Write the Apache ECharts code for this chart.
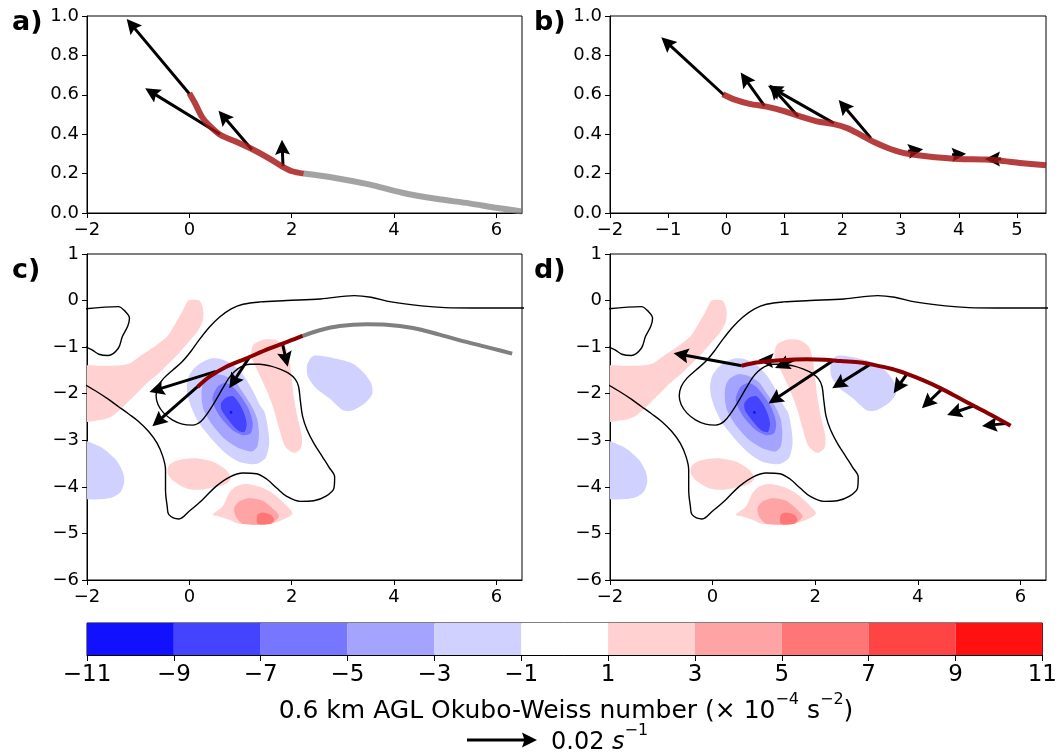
<!DOCTYPE html>
<html>
<head>
<meta charset="utf-8">
<script src="https://cdn.jsdelivr.net/npm/echarts@6/dist/echarts.min.js"></script>
<style>
  html, body { margin: 0; padding: 0; background: #fff; }
  #chart { width: 1060px; height: 754px; }
</style>
</head>
<body>
<div id="chart"></div>
<script>
// ---------- tick values ----------
const xTicksWide = [-2, 0, 2, 4, 6];
const xTicksB = [-2, -1, 0, 1, 2, 3, 4, 5];
const yTicksProfile = [0, 0.2, 0.4, 0.6, 0.8, 1.0];
const yTicksMap = [-6, -5, -4, -3, -2, -1, 0, 1];

// ---------- Okubo-Weiss levels (x 10^-4 s^-2) and band colours ----------
const owLevels = [-11, -9, -7, -5, -3, -1, 1, 3, 5, 7, 9, 11];
const owColors = ['#1111ff', '#4444ff', '#7676ff', '#a4a4ff', '#d1d1ff', '#ffffff',
                  '#ffd1d1', '#ffa4a4', '#ff7676', '#ff4444', '#ff1111'];

// ---------- panel a: height profile along the first track ----------
const redPathA = [[0, 0.608], [0.111, 0.557], [0.242, 0.49], [0.373, 0.448], [0.601, 0.397],
  [0.895, 0.364], [1.222, 0.325], [1.549, 0.279], [1.81, 0.237], [2.007, 0.212], [2.235, 0.2]];
const grayPathA = [[2.235, 0.2], [2.85, 0.178], [3.51, 0.145], [4.16, 0.103], [4.82, 0.072],
  [5.47, 0.049], [5.99, 0.027], [6.5, 0.008]];
// [x, y, u, v] with u, v in s^-1
const arrowsA = [[0.0, 0.605, -0.0179, 0.0214], [0.60, 0.40, -0.0214, 0.0131],
  [1.22, 0.322, -0.0095, 0.0111], [1.83, 0.237, -0.0003, 0.0076]];

// ---------- panel b: height profile along the second track ----------
const redPathB = [[-0.06, 0.603], [0.16, 0.574], [0.4, 0.554], [0.69, 0.54], [0.98, 0.519],
  [1.27, 0.49], [1.56, 0.465], [1.85, 0.451], [2.08, 0.431], [2.31, 0.397], [2.55, 0.359],
  [2.78, 0.33], [3.01, 0.308], [3.3, 0.293], [3.59, 0.283], [4.0, 0.274], [4.47, 0.271],
  [4.76, 0.264], [5.05, 0.254], [5.5, 0.242]];
const arrowsB = [[-0.04, 0.599, -0.0179, 0.0165], [0.657, 0.544, -0.0068, 0.0095],
  [1.238, 0.49, -0.0082, 0.0091], [1.849, 0.456, -0.0188, 0.0107], [2.488, 0.38, -0.0092, 0.0109],
  [3.128, 0.313, 0.0043, 0.0006], [3.884, 0.296, 0.0040, 0.0003], [4.727, 0.274, -0.0046, 0.0]];

// ---------- panels c, d: filled Okubo-Weiss bands (polygons in km) ----------
const owPinkNorthwest = [[-2.1, -1.43], [-1.717, -1.402], [-1.388, -1.395], [-1.157, -1.345],
  [-0.927, -1.166], [-0.664, -0.973], [-0.433, -0.773], [-0.269, -0.487], [-0.137, -0.237],
  [-0.018, 0.0], [0.192, 0.0], [0.271, -0.201], [0.258, -0.451], [0.159, -0.665], [-0.005, -0.88],
  [-0.203, -1.13], [-0.4, -1.345], [-0.598, -1.559], [-0.795, -1.738], [-0.993, -1.952],
  [-1.157, -2.131], [-1.322, -2.31], [-1.519, -2.488], [-1.717, -2.56], [-2.1, -2.574]];
const owBlueCore1 = [[-0.05, -1.85], [0.0, -1.6], [0.15, -1.4], [0.4, -1.25], [0.6, -1.25],
  [0.85, -1.38], [1.05, -1.6], [1.25, -1.95], [1.38, -2.25], [1.47, -2.4], [1.53, -2.7],
  [1.56, -3.06], [1.49, -3.38], [1.3, -3.51], [0.97, -3.46], [0.71, -3.28], [0.45, -2.99],
  [0.19, -2.63], [0.06, -2.35], [-0.02, -2.1]];
const owBlueCore2 = [[0.25, -1.85], [0.33, -1.68], [0.5, -1.58], [0.7, -1.62], [0.9, -1.75],
  [1.05, -1.98], [1.18, -2.2], [1.27, -2.38], [1.33, -2.56], [1.36, -2.85], [1.33, -3.13],
  [1.23, -3.24], [0.97, -3.17], [0.71, -2.99], [0.45, -2.67], [0.28, -2.35], [0.24, -2.1]];
const owBlueCore3 = [[0.45, -2.1], [0.55, -1.85], [0.7, -1.77], [0.85, -1.85], [1.0, -2.05],
  [1.12, -2.25], [1.2, -2.45], [1.24, -2.65], [1.2, -2.85], [1.04, -2.89], [0.84, -2.78],
  [0.62, -2.52], [0.5, -2.3]];
const owBlueCore4 = [[0.62, -2.2], [0.72, -2.08], [0.85, -2.05], [0.97, -2.2], [1.07, -2.42],
  [1.12, -2.65], [1.08, -2.82], [0.97, -2.8], [0.85, -2.68], [0.72, -2.5], [0.63, -2.35]];
const owBlueCore5 = [[0.79, -2.38], [0.83, -2.37], [0.84, -2.42], [0.80, -2.43]];
const owPinkStrip = [[1.25, -0.95], [1.45, -0.84], [1.7, -0.85], [1.87, -0.98], [1.95, -1.25],
  [1.99, -1.56], [2.04, -2.06], [2.11, -2.49], [2.2, -2.92], [2.18, -3.17], [2.04, -3.27],
  [1.87, -3.13], [1.76, -2.77], [1.64, -2.3], [1.5, -1.9], [1.33, -1.5], [1.21, -1.2]];
const owBlueEast = [[2.417, -1.189], [2.807, -1.232], [3.197, -1.354], [3.425, -1.569],
  [3.556, -1.783], [3.576, -1.998], [3.459, -2.176], [3.197, -2.354], [3.002, -2.354],
  [2.742, -2.105], [2.483, -1.89], [2.319, -1.64], [2.299, -1.388]];
const owBlueSouthwest = [[-2.1, -3.0], [-1.986, -3.028], [-1.694, -3.17], [-1.434, -3.42],
  [-1.303, -3.671], [-1.272, -3.886], [-1.336, -4.1], [-1.498, -4.221], [-1.76, -4.264],
  [-2.1, -4.221]];
const owPinkSouth = [[-0.394, -3.528], [-0.199, -3.421], [0.127, -3.384], [0.453, -3.457],
  [0.713, -3.635], [0.81, -3.813], [0.713, -3.936], [0.484, -4.006], [0.192, -4.064],
  [-0.068, -4.028], [-0.296, -3.886], [-0.425, -3.706]];
const owRedSouth1 = [[0.453, -4.601], [0.648, -4.423], [0.777, -4.135], [0.908, -3.993],
  [1.103, -3.936], [1.363, -3.993], [1.624, -4.135], [1.851, -4.35], [2.014, -4.579],
  [1.624, -4.785], [0.972, -4.794], [0.777, -4.708], [0.582, -4.637]];
const owRedSouth2 = [[0.875, -4.457], [0.972, -4.315], [1.168, -4.243], [1.429, -4.294],
  [1.655, -4.494], [1.753, -4.637], [1.591, -4.79], [1.039, -4.79], [0.908, -4.637]];
const owRedSouth3 = [[1.331, -4.601], [1.429, -4.552], [1.591, -4.601], [1.656, -4.708],
  [1.591, -4.79], [1.331, -4.79]];
// [polygon, lower bound of its band]
const owBands = [
  [owPinkNorthwest, 1], [owBlueCore1, -3], [owBlueCore2, -5], [owBlueCore3, -7],
  [owBlueCore4, -9], [owBlueCore5, -11], [owPinkStrip, 1], [owBlueEast, -3],
  [owBlueSouthwest, -3], [owPinkSouth, 1], [owRedSouth1, 1], [owRedSouth2, 3], [owRedSouth3, 5]
];

// ---------- panels c, d: black outline contours ----------
const outlineWest = [[-2.05, -0.18], [-1.388, -0.129], [-1.269, -0.215], [-1.17, -0.38],
  [-1.203, -0.544], [-1.309, -0.773], [-1.388, -1.023], [-1.585, -1.18], [-1.77, -1.152],
  [-1.901, -1.059], [-2.05, -0.98]];
const outlineMain = [[-2.05, -1.80], [-1.783, -1.974], [-1.585, -2.117], [-1.388, -2.274],
  [-1.19, -2.431], [-0.993, -2.595], [-0.795, -2.81], [-0.631, -3.06], [-0.519, -3.346],
  [-0.466, -3.632], [-0.466, -4.061], [-0.433, -4.418], [-0.4, -4.597], [-0.203, -4.69],
  [-0.005, -4.525], [0.258, -4.275], [0.521, -3.989], [0.785, -3.789], [1.048, -3.703],
  [1.311, -3.718], [1.509, -3.832], [1.706, -4.025], [1.904, -4.204], [2.167, -4.311],
  [2.431, -4.297], [2.661, -4.204], [2.826, -4.025], [2.839, -3.789], [2.727, -3.575],
  [2.595, -3.346], [2.431, -3.06], [2.299, -2.774], [2.213, -2.488], [2.167, -2.131],
  [2.134, -1.845], [2.068, -1.688], [1.937, -1.559], [1.772, -1.473], [1.575, -1.402],
  [1.377, -1.366], [1.18, -1.366], [1.015, -1.416], [0.883, -1.523], [0.772, -1.666],
  [0.653, -1.881], [0.521, -2.131], [0.357, -2.417], [0.225, -2.595], [0.061, -2.674],
  [-0.137, -2.653], [-0.334, -2.56], [-0.499, -2.417], [-0.611, -2.238], [-0.65, -2.045],
  [-0.611, -1.845], [-0.499, -1.666], [-0.334, -1.502], [-0.137, -1.309], [0.028, -1.094],
  [0.192, -0.844], [0.39, -0.573], [0.587, -0.358], [0.818, -0.179], [1.048, -0.079],
  [1.377, -0.029], [1.904, 0.0], [2.562, 0.035], [3.221, 0.107], [3.55, 0.071],
  [3.945, -0.029], [4.537, -0.115], [4.998, -0.151], [5.525, -0.158], [6.55, -0.158]];

// ---------- panel c: first track and its vectors ----------
const redPathC = [[0.16, -1.854], [0.387, -1.64], [0.713, -1.425], [1.103, -1.247],
  [1.558, -1.032], [1.948, -0.873], [2.21, -0.76]];
const grayPathC = [[2.19, -0.77], [2.547, -0.637], [2.938, -0.545], [3.459, -0.509],
  [3.849, -0.517], [4.37, -0.588], [4.889, -0.731], [5.41, -0.888], [5.93, -1.032], [6.308, -1.139]];
const arrowsC = [[0.52, -1.52, -0.0190, -0.0059], [0.16, -1.85, -0.0129, -0.0113],
  [1.17, -1.22, -0.0057, -0.0088], [1.82, -0.93, 0.0015, -0.0065]];

// ---------- panel d: second track and its vectors ----------
const redPathD = [[0.57, -1.40], [0.85, -1.33], [1.19, -1.29], [1.5, -1.27], [1.84, -1.26],
  [2.2, -1.27], [2.49, -1.30], [2.88, -1.33], [3.14, -1.38], [3.5, -1.47], [3.79, -1.575],
  [4.1, -1.71], [4.44, -1.88], [4.77, -2.07], [5.09, -2.26], [5.45, -2.47], [5.81, -2.69]];
const arrowsD = [[0.57, -1.40, -0.0195, 0.0036], [1.19, -1.29, -0.0044, 0.0002],
  [1.6, -1.27, -0.0056, -0.0024], [2.36, -1.28, -0.0186, -0.0124], [3.07, -1.37, -0.0108, -0.0068],
  [3.79, -1.575, -0.0038, -0.0055], [4.47, -1.90, -0.0057, -0.0055], [5.09, -2.26, -0.0076, -0.0026],
  [5.71, -2.64, -0.0067, -0.0007]];

// quiver reference vector
const keyVector = 0.02;

// ---------- drawing helpers ----------
const FONT = 'DejaVu Sans';
const TICK_FONT = 18;
const CBAR_FONT = 23;
const PX_PER_UNIT = 3500;            // screen pixels per 1 s^-1 of vector length
const HEAD_LEN = 15, HEAD_HALF = 7.5, HEAD_AXIS = 13, SHAFT_HALF = 1.5;

function arrowPoints(x0, y0, dx, dy) {
  const L = Math.hypot(dx, dy);
  if (L < 0.5) return [[x0, y0], [x0, y0], [x0, y0]];
  const ux = dx / L, uy = dy / L, nx = -uy, ny = ux;
  const k = Math.min(1, L / HEAD_LEN);
  const hl = HEAD_LEN * k, hw = HEAD_HALF * k, ha = HEAD_AXIS * k, sw = SHAFT_HALF * Math.max(k, 0.7);
  const tx = x0 + dx, ty = y0 + dy;
  const bx = tx - ux * ha, by = ty - uy * ha;
  const hx = tx - ux * hl, hy = ty - uy * hl;
  return [[x0 + nx * sw, y0 + ny * sw], [bx + nx * sw, by + ny * sw], [hx + nx * hw, hy + ny * hw],
          [tx, ty], [hx - nx * hw, hy - ny * hw], [bx - nx * sw, by - ny * sw], [x0 - nx * sw, y0 - ny * sw]];
}

const minus = v => String(v).replace('-', '\u2212');

function xAxisFor(gi, min, max, ticks) {
  return {
    type: 'value', gridIndex: gi, min: min, max: max,
    axisLine: { show: true, onZero: false, lineStyle: { color: '#000', width: 1 } },
    axisTick: { show: true, length: 5, lineStyle: { color: '#000' }, customValues: ticks },
    axisLabel: { customValues: ticks, color: '#000', fontSize: TICK_FONT, fontFamily: FONT, margin: 8,
                 formatter: minus },
    splitLine: { show: false }
  };
}
function yAxisFor(gi, min, max, ticks, fmt) {
  return {
    type: 'value', gridIndex: gi, min: min, max: max,
    axisLine: { show: true, onZero: false, lineStyle: { color: '#000', width: 1 } },
    axisTick: { show: true, length: 5, lineStyle: { color: '#000' }, customValues: ticks },
    axisLabel: { customValues: ticks, color: '#000', fontSize: TICK_FONT, fontFamily: FONT, margin: 8,
                 formatter: fmt },
    splitLine: { show: false }
  };
}

function pathSeries(gi, data, color, width, z) {
  return {
    type: 'line', xAxisIndex: gi, yAxisIndex: gi, data: data, showSymbol: false, symbol: 'none',
    smooth: 0.3, lineStyle: { color: color, width: width, cap: 'butt', join: 'round' },
    clip: true, silent: true, z: z
  };
}

function arrowSeries(gi, data) {
  return {
    type: 'custom', xAxisIndex: gi, yAxisIndex: gi, data: data, clip: true, silent: true, z: 4,
    renderItem: function (params, api) {
      const p = api.coord([api.value(0), api.value(1)]);
      const pts = arrowPoints(p[0], p[1], api.value(2) * PX_PER_UNIT, -api.value(3) * PX_PER_UNIT);
      return { type: 'polygon', shape: { points: pts }, style: { fill: '#000', stroke: null } };
    }
  };
}

function bandColor(lower) {
  return owColors[owLevels.indexOf(lower)];
}

function fieldSeries(gi) {
  return {
    type: 'custom', xAxisIndex: gi, yAxisIndex: gi, clip: true, silent: true, z: 1,
    data: owBands.map((b, i) => [Math.max(-2, b[0][0][0]), b[0][0][1], i]),
    renderItem: function (params, api) {
      const band = owBands[params.dataIndex];
      return {
        type: 'polygon',
        shape: { points: band[0].map(p => api.coord(p)), smooth: 0.25 },
        style: { fill: bandColor(band[1]), stroke: null }
      };
    }
  };
}

function outlineSeries(gi, data) {
  return {
    type: 'line', xAxisIndex: gi, yAxisIndex: gi, data: data, showSymbol: false, symbol: 'none',
    smooth: 0.35, lineStyle: { color: '#000', width: 1.4 }, clip: true, silent: true, z: 2
  };
}

// ---------- chart ----------
const gridBase = { show: true, borderColor: '#000', borderWidth: 1, backgroundColor: 'transparent' };
const grids = [
  Object.assign({ left: 87, top: 16, width: 435, height: 197 }, gridBase),
  Object.assign({ left: 610, top: 16, width: 436, height: 197 }, gridBase),
  Object.assign({ left: 87, top: 254, width: 435, height: 326 }, gridBase),
  Object.assign({ left: 610, top: 254, width: 436, height: 326 }, gridBase),
  Object.assign({ left: 87, top: 623, width: 959, height: 32 }, gridBase)
];

const key = arrowPoints(467, 740, keyVector * PX_PER_UNIT, 0);
const labelFont = 'bold 27px "DejaVu Sans"';

const option = {
  animation: false,
  backgroundColor: '#fff',
  grid: grids,
  xAxis: [
    xAxisFor(0, -2, 6.5, xTicksWide),
    xAxisFor(1, -2, 5.5, xTicksB),
    xAxisFor(2, -2, 6.5, xTicksWide),
    xAxisFor(3, -2, 6.5, xTicksWide),
    {
      type: 'value', gridIndex: 4, min: -11, max: 11,
      axisLine: { show: true, onZero: false, lineStyle: { color: '#000' } },
      axisTick: { show: true, length: 6, lineStyle: { color: '#000' }, customValues: owLevels },
      axisLabel: { customValues: owLevels, color: '#000', fontSize: CBAR_FONT, fontFamily: FONT, margin: 9,
                   formatter: minus },
      splitLine: { show: false }
    }
  ],
  yAxis: [
    yAxisFor(0, 0, 1, yTicksProfile, v => v.toFixed(1)),
    yAxisFor(1, 0, 1, yTicksProfile, v => v.toFixed(1)),
    yAxisFor(2, -6, 1, yTicksMap, minus),
    yAxisFor(3, -6, 1, yTicksMap, minus),
    { type: 'value', gridIndex: 4, min: 0, max: 1, show: false }
  ],
  series: [
    // a
    arrowSeries(0, arrowsA),
    pathSeries(0, grayPathA, 'rgba(128,128,128,0.72)', 6, 5),
    pathSeries(0, redPathA, 'rgba(165,20,20,0.82)', 6, 5),
    // b
    arrowSeries(1, arrowsB),
    pathSeries(1, redPathB, 'rgba(165,20,20,0.82)', 6, 5),
    // c
    fieldSeries(2),
    outlineSeries(2, outlineWest),
    outlineSeries(2, outlineMain),
    arrowSeries(2, arrowsC),
    pathSeries(2, grayPathC, '#808080', 4, 5),
    pathSeries(2, redPathC, '#8b0000', 4, 5),
    // d
    fieldSeries(3),
    outlineSeries(3, outlineWest),
    outlineSeries(3, outlineMain),
    arrowSeries(3, arrowsD),
    pathSeries(3, redPathD, '#8b0000', 4, 5),
    // colour bar
    {
      type: 'custom', xAxisIndex: 4, yAxisIndex: 4, silent: true, z: 1,
      data: owColors.map((c, i) => [owLevels[i], owLevels[i + 1]]),
      renderItem: function (params, api) {
        const a = api.coord([api.value(0), 1]);
        const b = api.coord([api.value(1), 0]);
        return { type: 'rect', shape: { x: a[0], y: a[1], width: b[0] - a[0], height: b[1] - a[1] },
                 style: { fill: owColors[params.dataIndex], stroke: null } };
      }
    }
  ],
  graphic: [
    { type: 'text', x: 12, y: 23, style: { text: 'a)', font: labelFont, fill: '#000', textVerticalAlign: 'middle' } },
    { type: 'text', x: 534, y: 23, style: { text: 'b)', font: labelFont, fill: '#000', textVerticalAlign: 'middle' } },
    { type: 'text', x: 12, y: 271, style: { text: 'c)', font: labelFont, fill: '#000', textVerticalAlign: 'middle' } },
    { type: 'text', x: 534, y: 271, style: { text: 'd)', font: labelFont, fill: '#000', textVerticalAlign: 'middle' } },
    {
      type: 'text', x: 566, y: 708,
      style: {
        text: '{t|0.6 km AGL Okubo-Weiss number (\u00d7 10}{s|\u22124}{t| s}{s|\u22122}{t|)}',
        textAlign: 'center', textVerticalAlign: 'middle', fill: '#000',
        rich: {
          t: { fontSize: 25, fontFamily: FONT, fill: '#000', lineHeight: 32, verticalAlign: 'bottom' },
          s: { fontSize: 16, fontFamily: FONT, fill: '#000', lineHeight: 32, verticalAlign: 'top' }
        }
      }
    },
    { type: 'polygon', shape: { points: key }, style: { fill: '#000' } },
    {
      type: 'text', x: 551, y: 739,
      style: {
        text: '{t|0.02 }{i|s}{s|\u22121}',
        textAlign: 'left', textVerticalAlign: 'middle', fill: '#000',
        rich: {
          t: { fontSize: 24, fontFamily: FONT, fill: '#000', lineHeight: 32, verticalAlign: 'bottom' },
          i: { fontSize: 24, fontFamily: FONT, fontStyle: 'italic', fill: '#000', lineHeight: 32, verticalAlign: 'bottom' },
          s: { fontSize: 16, fontFamily: FONT, fill: '#000', lineHeight: 32, verticalAlign: 'top' }
        }
      }
    }
  ]
};

const chart = echarts.init(document.getElementById('chart'), null, { renderer: 'canvas' });
chart.setOption(option);
</script>
</body>
</html>
